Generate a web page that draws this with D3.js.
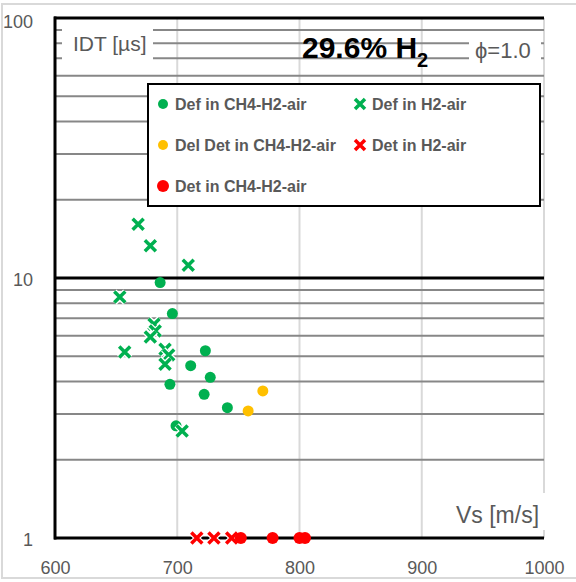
<!DOCTYPE html>
<html lang="en">
<head>
<meta charset="UTF-8">
<title>IDT vs Vs</title>
<script src="https://d3js.org/d3.v7.min.js"></script>
<style>
  body { margin: 0; background: #fff; }
  svg text { font-family: "Liberation Sans", Arial, sans-serif; }
</style>
</head>
<body>
<svg id="chart" width="576" height="582"></svg>
<script>
// data: [Vs m/s, IDT us]
var defCH4 = [[686, 9.6], [696, 7.3], [723, 5.25], [711, 4.6], [727, 4.15], [694, 3.9], [722, 3.57], [741, 3.17], [699, 2.7]];
var defH2 = [[668, 16.1], [678, 13.3], [709, 11.2], [653, 8.45], [681, 6.64], [682, 6.25], [678, 5.93], [657, 5.19], [690, 5.32], [693, 5.06], [690, 4.66], [704, 2.58]];
var delDetCH4 = [[770, 3.68], [758, 3.08]];
var detH2 = [[716, 1], [730, 1], [744.5, 1]];
var detCH4 = [[752, 1], [778, 1], [800, 1], [804.5, 1]];

var xTicks = [600, 700, 800, 900, 1000];
var yTicks = [1, 10, 100];
var yMinor = [2, 3, 4, 5, 6, 7, 8, 9, 20, 30, 40, 50, 60, 70, 80, 90];

var legendItems = [
  {label: "Def in CH4-H2-air", shape: "circle", color: "#00b050", r: 5, col: 0, row: 0},
  {label: "Def in H2-air", shape: "cross", color: "#00b050", col: 1, row: 0},
  {label: "Del Det in CH4-H2-air", shape: "circle", color: "#ffc000", r: 5, col: 0, row: 1},
  {label: "Det in H2-air", shape: "cross", color: "#ff0000", col: 1, row: 1},
  {label: "Det in CH4-H2-air", shape: "circle", color: "#ff0000", r: 6, col: 0, row: 2}
];

var svg = d3.select("#chart");
var pLeft = 55, pRight = 544, pTop = 18, pBottom = 538;
var grey = "#595959";

var x = d3.scaleLinear().domain([600, 1000]).range([pLeft, pRight]);
var y = d3.scaleLog().domain([1, 100]).range([pBottom, pTop]);

// outer frame
svg.append("rect").attr("x", 2).attr("y", 4).attr("width", 600).attr("height", 574)
  .attr("fill", "none").attr("stroke", "#d9d9d9").attr("stroke-width", 2);

// vertical grid
svg.append("g").selectAll("line").data(xTicks.slice(1)).join("line")
  .attr("x1", d => x(d)).attr("x2", d => x(d))
  .attr("y1", pTop).attr("y2", pBottom)
  .attr("stroke", "#d9d9d9").attr("stroke-width", 2);

// minor horizontal grid
svg.append("g").selectAll("line").data(yMinor).join("line")
  .attr("x1", pLeft).attr("x2", pRight)
  .attr("y1", d => y(d)).attr("y2", d => y(d))
  .attr("stroke", "#878787").attr("stroke-width", 2);

// major horizontal lines
svg.append("g").selectAll("line").data(yTicks).join("line")
  .attr("x1", pLeft - 1).attr("x2", pRight)
  .attr("y1", d => y(d)).attr("y2", d => y(d))
  .attr("stroke", "#000").attr("stroke-width", 3);

// left axis line
svg.append("line").attr("x1", pLeft).attr("x2", pLeft).attr("y1", pTop - 1.5).attr("y2", pBottom + 1.5)
  .attr("stroke", "#000").attr("stroke-width", 3);

// tick labels via axes
var axY = svg.append("g").attr("transform", "translate(" + (pLeft - 19) + ",0)")
  .call(d3.axisLeft(y).tickValues(yTicks).tickFormat(d3.format("d")).tickSize(0));
axY.select(".domain").remove();
axY.selectAll("text").attr("font-size", 18).attr("fill", grey).attr("font-family", "Liberation Sans, Arial, sans-serif")
  .attr("dy", d => d === 100 ? "0.55em" : "0.4em");

var axX = svg.append("g").attr("transform", "translate(0," + (pBottom + 20) + ")")
  .call(d3.axisBottom(x).tickValues(xTicks).tickFormat(d3.format("d")).tickSize(0));
axX.select(".domain").remove();
axX.selectAll("text").attr("font-size", 18).attr("fill", grey).attr("font-family", "Liberation Sans, Arial, sans-serif");

// labels with white boxes
svg.append("rect").attr("x", 62).attr("y", 24).attr("width", 91).attr("height", 41).attr("fill", "#fff");
svg.append("text").attr("x", 73).attr("y", 51).attr("font-size", 21).attr("fill", grey).text("IDT [µs]");

svg.append("rect").attr("x", 469).attr("y", 34).attr("width", 72).attr("height", 31).attr("fill", "#fff");
svg.append("text").attr("x", 475).attr("y", 58).attr("font-size", 22).attr("fill", grey).text("ϕ=1.0");

svg.append("rect").attr("x", 450).attr("y", 493).attr("width", 96).attr("height", 37).attr("fill", "#fff");
svg.append("text").attr("x", 456).attr("y", 523).attr("font-size", 23).attr("fill", grey).text("Vs [m/s]");

var title = svg.append("text").attr("x", 302).attr("y", 58).attr("font-size", 30).attr("font-weight", "bold").attr("fill", "#000");
title.append("tspan").text("29.6% H");
title.append("tspan").attr("font-size", 20).attr("dy", 9).text("2");

// legend
var lg = svg.append("g");
lg.append("rect").attr("x", 148).attr("y", 84).attr("width", 392).attr("height", 122)
  .attr("fill", "#fff").attr("stroke", "#000").attr("stroke-width", 2);

function cross(g, cx, cy, color, s) {
  var p = "M" + (cx - s) + "," + (cy - s) + "L" + (cx + s) + "," + (cy + s) +
          "M" + (cx - s) + "," + (cy + s) + "L" + (cx + s) + "," + (cy - s);
  g.append("path").attr("d", p).attr("stroke", "#fff").attr("stroke-width", 6);
  g.append("path").attr("d", p).attr("stroke", color).attr("stroke-width", 3.5);
}

legendItems.forEach(function(it) {
  var mx = it.col === 0 ? 163 : 360;
  var my = 104 + it.row * 41;
  if (it.shape === "circle") {
    lg.append("circle").attr("cx", mx).attr("cy", my).attr("r", it.r).attr("fill", it.color);
  } else {
    cross(lg, mx, my, it.color, 5);
  }
  lg.append("text").attr("x", mx + 12).attr("y", my + 6).attr("font-size", 16)
    .attr("font-weight", "bold").attr("fill", grey).text(it.label);
});

// points
var pts = svg.append("g");
function circles(data, color, r) {
  pts.append("g").selectAll("circle").data(data).join("circle")
    .attr("cx", d => x(d[0])).attr("cy", d => y(d[1])).attr("r", r).attr("fill", color);
}
function crosses(data, color) {
  var g = pts.append("g");
  data.forEach(function(d) { cross(g, x(d[0]), y(d[1]), color, 5.5); });
}
circles(defCH4, "#00b050", 5.5);
crosses(defH2, "#00b050");
circles(delDetCH4, "#ffc000", 5.5);
crosses(detH2, "#ff0000");
circles(detCH4, "#ff0000", 6);
</script>
</body>
</html>
